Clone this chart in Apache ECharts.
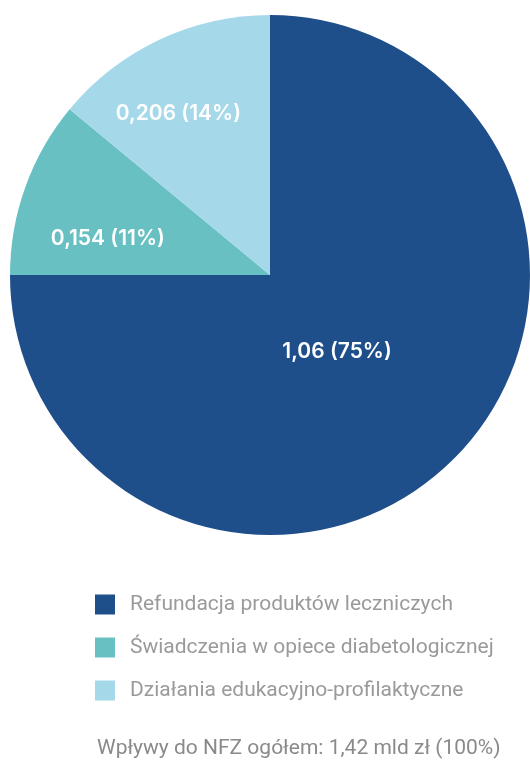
<!DOCTYPE html>
<html><head><meta charset="utf-8">
<script src="https://cdn.jsdelivr.net/npm/echarts@6/dist/echarts.min.js"></script>
<style>html,body{margin:0;padding:0;background:#fff}#c{width:530px;height:760px}</style>
</head><body><div id="c"></div>
<script>
const categories = ['Refundacja produktów leczniczych', 'Świadczenia w opiece diabetologicznej', 'Działania edukacyjno-profilaktyczne'];
const values = ['1,06', '0,154', '0,206'];
const percents = [75, 11, 14];
const colors = ['#1f4f8b', '#68c0c3', '#a5d9e9'];
const totalText = 'Wpływy do NFZ ogółem: 1,42 mld zł (100%)';
const labelShift = [[-27, -17], [-37, 9], [-35, -41]];

const chart = echarts.init(document.getElementById('c'));
chart.setOption({
  animation: false,
  title: {
    text: totalText,
    left: 92, top: 733,
    textStyle: {fontFamily: 'Roboto', fontWeight: 400, fontSize: 21, color: '#8a8a8a'}
  },
  legend: {
    orient: 'vertical', left: 90, top: 589,
    itemWidth: 20, itemHeight: 20, itemGap: 22,
    icon: 'rect',
    data: categories,
    textStyle: {fontFamily: 'Roboto', fontWeight: 400, fontSize: 21, color: '#9a9a9a', padding: [0, 0, 0, 10]}
  },
  series: [{
    type: 'pie',
    center: [270, 275],
    radius: 260,
    startAngle: 90,
    clockwise: true,
    data: categories.map((n, i) => ({name: n, value: percents[i], itemStyle: {color: colors[i]}})),
    label: {
      show: true, position: 'inside',
      formatter: p => values[p.dataIndex] + ' (' + percents[p.dataIndex] + '%)',
      color: '#fff', fontFamily: 'Inter', fontWeight: 600, fontSize: 21
    },
    labelLayout: p => ({dx: labelShift[p.dataIndex][0], dy: labelShift[p.dataIndex][1]}),
    labelLine: {show: false},
    emphasis: {disabled: true}
  }]
});
</script></body></html>
